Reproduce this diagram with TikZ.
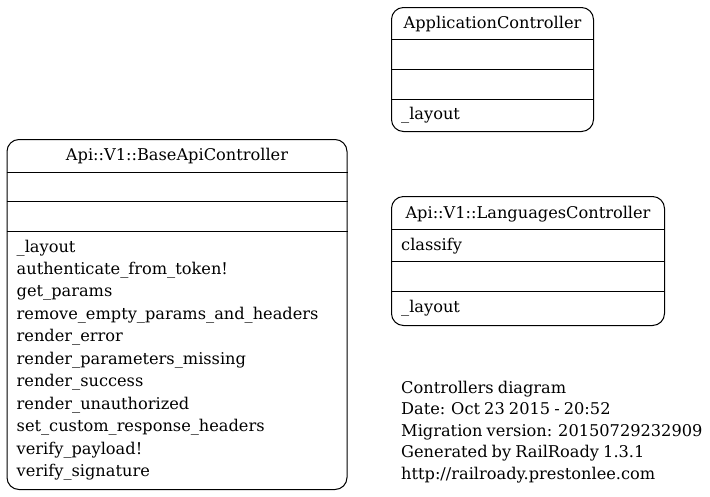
\documentclass[tikz,border=0pt]{standalone}
\usepackage{fontspec}
\setmainfont{DejaVu Serif}[WordSpace=0.8]
\usetikzlibrary{calc}

\tikzset{
	classbox/.style={draw, line width=1pt, rounded corners=12pt, anchor=north west, inner sep=0pt},
	divider/.style={line width=1pt},
	title/.style={anchor=base, inner sep=0pt},
	member/.style={anchor=base west, inner sep=0pt},
}

\begin{document}
\begin{tikzpicture}[x=1pt, y=-1pt, font=\fontsize{16.2}{22}\selectfont]
	\useasboundingbox (0,0) rectangle (710,496);
	
	% ApplicationController
	\node[classbox, minimum width=202pt, minimum height=124pt] (app) at (391,7) {};
	\node[title] (app-name) at ($(app.north)+(0,21.3)$) {ApplicationController};
	\foreach \d in {32,62.3,92.3}
		\draw[divider] ($(app.north west)+(0,\d)$) -- ($(app.north east)+(0,\d)$);
	\node[member] (app-layout) at ($(app.north west)+(10,112.3)$) {\_layout};
	
	% Api::V1::BaseApiController
	\node[classbox, minimum width=340pt, minimum height=350pt] (base) at (6.5,139) {};
	\node[title] (base-name) at ($(base.north)+(0,21.7)$) {Api::V1::BaseApiController};
	\foreach \d in {33,62.5,92.5}
		\draw[divider] ($(base.north west)+(0,\d)$) -- ($(base.north east)+(0,\d)$);
	\foreach \m [count=\i from 0] in {\_layout, authenticate\_from\_token!, get\_params,
		remove\_empty\_params\_and\_headers, render\_error, render\_parameters\_missing,
		render\_success, render\_unauthorized, set\_custom\_response\_headers,
		verify\_payload!, verify\_signature}
		\node[member] (base-m\i) at ($(base.north west)+(10,113+22.47*\i)$) {\m};
	
	% Api::V1::LanguagesController
	\node[classbox, minimum width=273pt, minimum height=129pt] (lang) at (391,196) {};
	\node[title] (lang-name) at ($(lang.north)+(0,22.3)$) {Api::V1::LanguagesController};
	\foreach \d in {33.3,65,95}
		\draw[divider] ($(lang.north west)+(0,\d)$) -- ($(lang.north east)+(0,\d)$);
	\node[member] (lang-classify) at ($(lang.north west)+(10,54.7)$) {classify};
	\node[member] (lang-layout) at ($(lang.north west)+(10,116.7)$) {\_layout};
	
	% legend
	\foreach \t [count=\i from 0] in {Controllers diagram, Date: Oct 23 2015 - 20:52,
		Migration version: 20150729232909, Generated by RailRoady 1.3.1,
		http://railroady.prestonlee.com}
		\node[member] (legend\i) at (401,393+21.5*\i) {\t};
\end{tikzpicture}
\end{document}
